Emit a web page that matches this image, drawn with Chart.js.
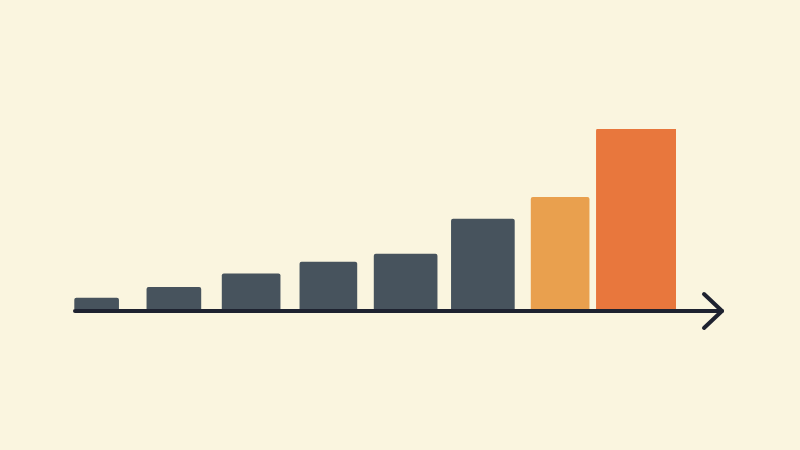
<!DOCTYPE html>
<html>
<head>
<meta charset="utf-8">
<script src="https://cdn.jsdelivr.net/npm/chart.js@4"></script>
<style>
  html, body { margin: 0; padding: 0; background: #faf5df; }
  #wrap { width: 800px; height: 450px; position: relative; }
</style>
</head>
<body>
<div id="wrap"><canvas id="chart"></canvas></div>
<script>
// ================= DATA =================
const categories = ["1", "2", "3", "4", "5", "6", "7", "8"];
const values = [6, 12, 19.5, 26, 30.5, 50, 62, 100];

// ================= STYLE =================
const barColors = ["#47535d", "#47535d", "#47535d", "#47535d", "#47535d", "#47535d", "#e9a04e", "#e8773d"];
const barWidths = [44, 54, 58, 57, 63, 63, 58, 82];
const AXIS_COLOR = "#1e2230";

// one dataset per bar so every bar can have its own width
const datasets = values.map((v, i) => ({
  data: categories.map((c, j) => (j === i ? v : null)),
  backgroundColor: barColors[i],
  barThickness: barWidths[i],
  borderRadius: 2,
  borderSkipped: "bottom",
  grouped: false
}));

// hand drawn base line with an arrow head
const arrowAxis = {
  id: "arrowAxis",
  afterDatasetsDraw(chart) {
    const { ctx, chartArea } = chart;
    const y = chart.scales.y.getPixelForValue(0) + 2;
    const x0 = chartArea.left + 17;
    const x1 = chartArea.right + 46;
    ctx.save();
    ctx.strokeStyle = AXIS_COLOR;
    ctx.lineWidth = 4;
    ctx.lineCap = "round";
    ctx.lineJoin = "round";
    ctx.beginPath();
    ctx.moveTo(x0, y);
    ctx.lineTo(x1, y);
    ctx.stroke();
    ctx.beginPath();
    ctx.moveTo(x1 - 18, y - 17);
    ctx.lineTo(x1, y);
    ctx.lineTo(x1 - 18, y + 17);
    ctx.stroke();
    ctx.restore();
  }
};

new Chart(document.getElementById("chart"), {
  type: "bar",
  data: { labels: categories, datasets },
  options: {
    responsive: true,
    maintainAspectRatio: false,
    animation: false,
    layout: { padding: { left: 58, right: 124, top: 129, bottom: 141 } },
    plugins: { legend: { display: false }, tooltip: { enabled: false } },
    scales: {
      x: { display: false, grid: { display: false } },
      y: { display: false, min: 0, max: 100, grid: { display: false } }
    }
  },
  plugins: [arrowAxis]
});
</script>
</body>
</html>
